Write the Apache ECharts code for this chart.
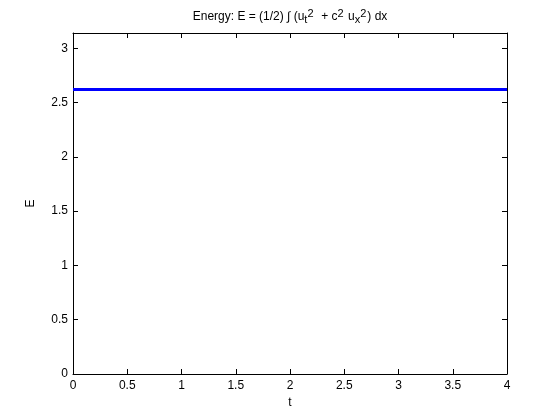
<!DOCTYPE html>
<html><head><meta charset="utf-8">
<script src="https://cdn.jsdelivr.net/npm/echarts@6/dist/echarts.min.js"></script>
<style>html,body{margin:0;padding:0;background:#fff}#c{width:560px;height:420px}</style>
</head><body><div id="c"></div>
<script>
const tValues = [0, 4];
const energyValues = [2.62, 2.62];
const xTicks = ['0','0.5','1','1.5','2','2.5','3','3.5','4'];
const yTicks = ['0','0.5','1','1.5','2','2.5','3'];
const yMax = Math.PI;

const font = 'Liberation Sans, Arial, Helvetica, sans-serif';
const chart = echarts.init(document.getElementById('c'));
const axisCommon = {
  axisLine: {show: true, onZero: false, lineStyle: {color: '#000', width: 1}},
  axisTick: {show: true, inside: true, length: 5, lineStyle: {color: '#000'}},
  splitLine: {show: false}
};
chart.setOption({
  animation: false,
  title: {
    text: '{n|Energy: E = (1/2) ∫ (u}{sub|t}{sup|2}{n|  + c}{sup|2}{n| u}{sub|x}{sup|2}{n|) dx}',
    left: 285, top: 3, textAlign: 'center',
    textStyle: {
      fontWeight: 'normal',
      rich: {
        n: {fontFamily: font, fontSize: 12, color: '#000', fontWeight: 'normal'},
        sup: {fontFamily: font, fontSize: 11, color: '#000', fontWeight: 'normal', verticalAlign: 'top', padding: [0,1,6,0]},
        sub: {fontFamily: font, fontSize: 11, color: '#000', fontWeight: 'normal', verticalAlign: 'bottom', padding: [6,0,0,0]}
      }
    }
  },
  grid: {left: 73, right: 53, top: 33, bottom: 46, containLabel: false},
  xAxis: [
    Object.assign({type: 'value', min: 0, max: 4, interval: 0.5, position: 'bottom',
      name: 't', nameLocation: 'middle', nameGap: 23,
      nameTextStyle: {fontFamily: font, fontSize: 12, color: '#000'},
      axisLabel: {margin: 6, fontFamily: font, fontSize: 12, color: '#000',
        formatter: (v) => xTicks[Math.round(v/0.5)]}}, axisCommon),
    Object.assign({type: 'value', min: 0, max: 4, interval: 0.5, position: 'top',
      axisLabel: {show: false}}, axisCommon)
  ],
  yAxis: [
    Object.assign({type: 'value', min: 0, max: yMax, interval: 0.5, position: 'left',
      name: 'E', nameLocation: 'middle', nameGap: 36, nameRotate: 90,
      nameTextStyle: {fontFamily: font, fontSize: 12, color: '#000'},
      axisLabel: {margin: 5, fontFamily: font, fontSize: 12, color: '#000',
        showMaxLabel: false,
        formatter: (v) => { const i = Math.round(v/0.5); return (Math.abs(v - i*0.5) < 1e-9 && yTicks[i] !== undefined) ? yTicks[i] : ''; }}}, axisCommon),
    Object.assign({type: 'value', min: 0, max: yMax, interval: 0.5, position: 'right',
      axisLabel: {show: false}}, axisCommon)
  ],
  series: [{
    type: 'line', xAxisIndex: 0, yAxisIndex: 0,
    data: tValues.map((t, i) => [t, energyValues[i]]),
    showSymbol: false, symbol: 'none',
    lineStyle: {color: '#0000ff', width: 3}
  }]
});
</script></body></html>
